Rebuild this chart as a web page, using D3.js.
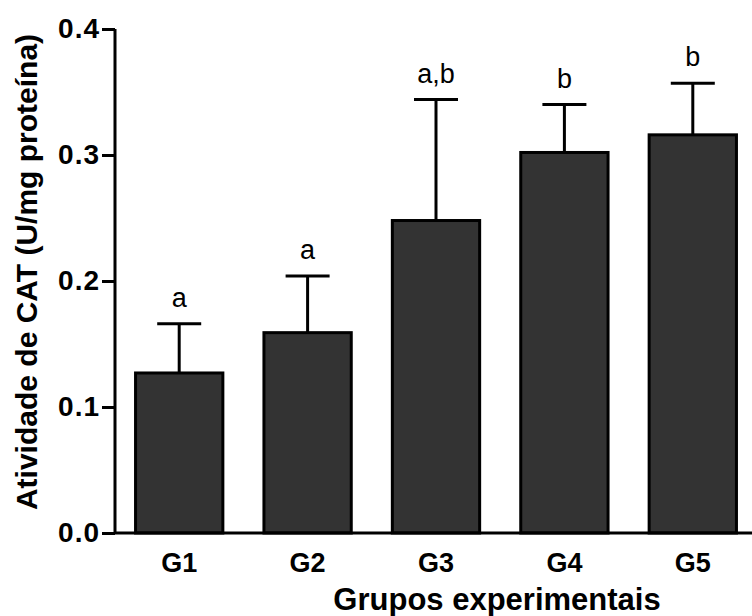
<!DOCTYPE html>
<html>
<head>
<meta charset="utf-8">
<script src="https://cdn.jsdelivr.net/npm/d3@7"></script>
<style>
  body { margin: 0; background: #fff; }
  text { font-family: "Liberation Sans", Arial, sans-serif; }
</style>
</head>
<body>
<div id="chart"></div>
<script>
// Data
const groups = ["G1", "G2", "G3", "G4", "G5"];
const means = [0.127, 0.159, 0.248, 0.302, 0.316];
const errors = [0.039, 0.045, 0.096, 0.038, 0.041];
const letters = ["a", "a", "a,b", "b", "b"];
const yTicks = [0.0, 0.1, 0.2, 0.3, 0.4];

const W = 752, H = 616;
const left = 115, zeroY = 533, topY = 29;

const svg = d3.select("#chart").append("svg")
    .attr("width", W)
    .attr("height", H);

const x = d3.scaleBand()
    .domain(groups)
    .range([left, 757])
    .paddingInner(0.32)
    .paddingOuter(0.16);

const y = d3.scaleLinear()
    .domain([0, 0.4])
    .range([zeroY, topY]);

// Bars
svg.selectAll("rect.bar")
    .data(groups)
    .enter()
    .append("rect")
    .attr("class", "bar")
    .attr("x", d => x(d))
    .attr("y", (d, i) => y(means[i]))
    .attr("width", x.bandwidth())
    .attr("height", (d, i) => zeroY - y(means[i]))
    .attr("fill", "#333333")
    .attr("stroke", "#000")
    .attr("stroke-width", 3);

// Error bars (upper only) + significance letters
groups.forEach((g, i) => {
    const cx = x(g) + x.bandwidth() / 2;
    const top = y(means[i] + errors[i]);
    svg.append("line")
        .attr("x1", cx).attr("x2", cx)
        .attr("y1", y(means[i])).attr("y2", top)
        .attr("stroke", "#000").attr("stroke-width", 3);
    svg.append("line")
        .attr("x1", cx - 22).attr("x2", cx + 22)
        .attr("y1", top).attr("y2", top)
        .attr("stroke", "#000").attr("stroke-width", 3);
    svg.append("text")
        .attr("x", cx)
        .attr("y", top - 17)
        .attr("text-anchor", "middle")
        .style("font-size", "27px")
        .text(letters[i]);
});

// Y axis
const yAxis = svg.append("g")
    .attr("transform", `translate(${left},0)`)
    .call(d3.axisLeft(y).tickValues(yTicks).tickFormat(d3.format(".1f")).tickSize(13).tickPadding(2));
yAxis.select(".domain").attr("stroke-width", 3).attr("d", `M0,${topY}V${zeroY}`);
yAxis.selectAll(".tick line").attr("stroke-width", 3);
yAxis.selectAll(".tick text")
    .style("font-family", "'Liberation Sans', Arial, sans-serif")
    .style("font-size", "28px")
    .style("font-weight", "bold")
    .style("letter-spacing", "1px")
    .attr("fill", "#000");

// X axis line
svg.append("line")
    .attr("x1", left).attr("x2", W)
    .attr("y1", zeroY).attr("y2", zeroY)
    .attr("stroke", "#000").attr("stroke-width", 3);

// Group labels
svg.selectAll("text.glabel")
    .data(groups)
    .enter()
    .append("text")
    .attr("class", "glabel")
    .attr("x", d => x(d) + x.bandwidth() / 2)
    .attr("y", 572)
    .attr("text-anchor", "middle")
    .style("font-size", "27px")
    .style("font-weight", "bold")
    .text(d => d);

// Axis titles
svg.append("text")
    .attr("x", 497)
    .attr("y", 610)
    .attr("text-anchor", "middle")
    .style("font-size", "31px")
    .style("font-weight", "bold")
    .text("Grupos experimentais");

svg.append("text")
    .attr("transform", "rotate(-90)")
    .attr("x", -272)
    .attr("y", 37)
    .attr("text-anchor", "middle")
    .style("font-size", "30px")
    .style("font-weight", "bold")
    .text("Atividade de CAT (U/mg proteína)");
</script>
</body>
</html>
